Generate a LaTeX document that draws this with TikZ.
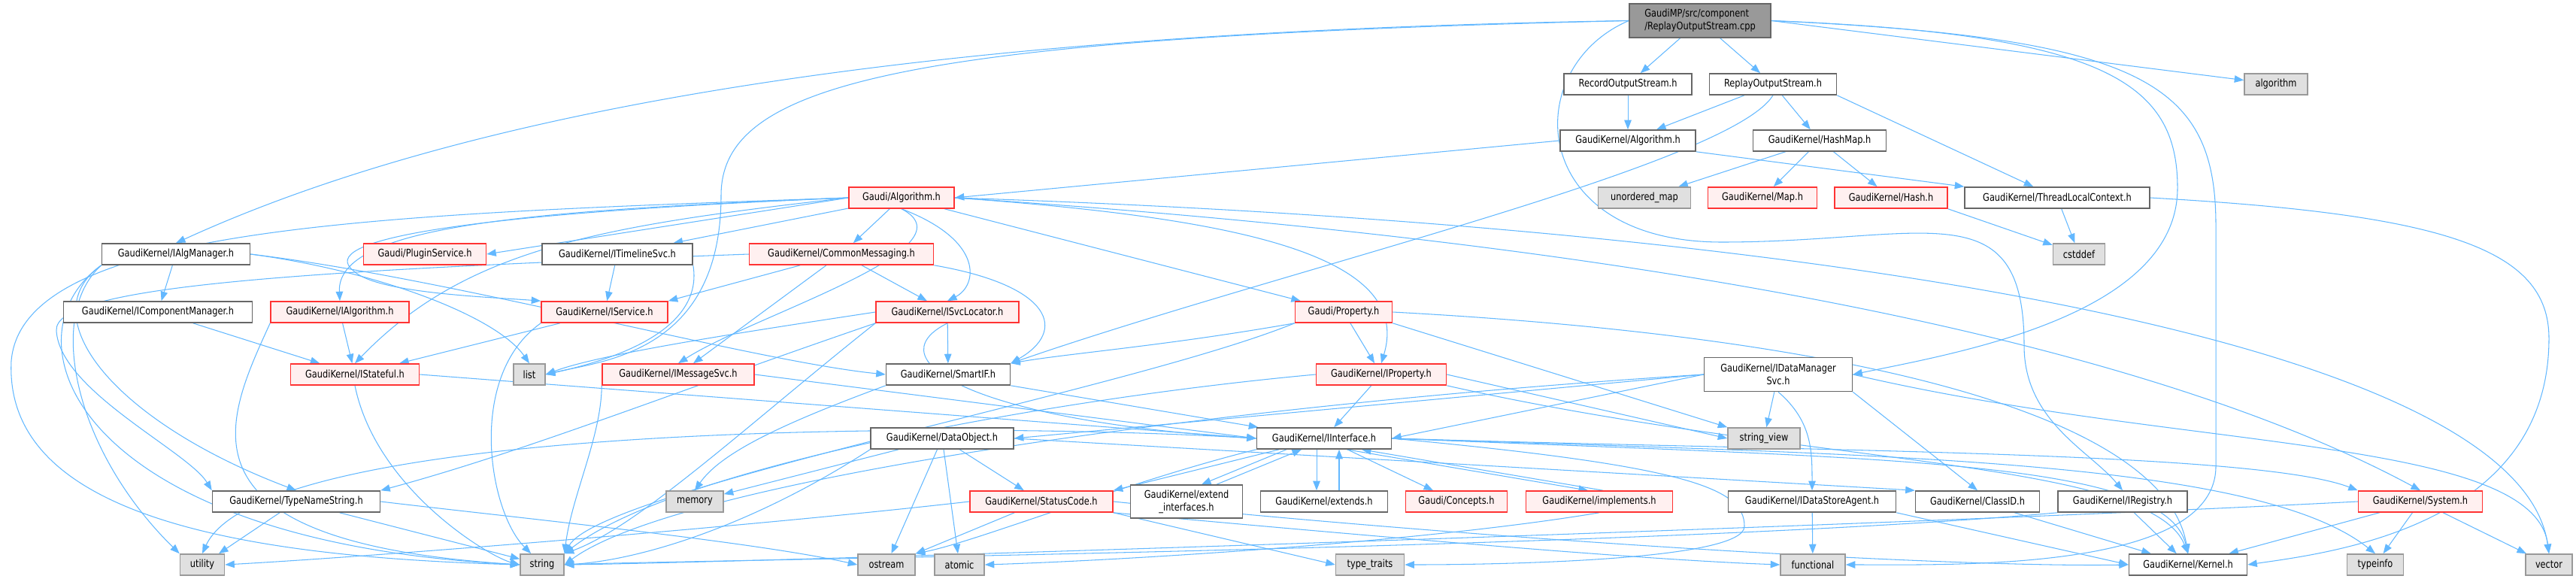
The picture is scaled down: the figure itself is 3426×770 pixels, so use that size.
\documentclass[tikz,border=0pt]{standalone}
\usepackage{fontspec}
\newfontfamily\dvs{DejaVu Sans}[FakeStretch=0.82]
\usetikzlibrary{arrows.meta}
\pgfdeclarelayer{bg}
\pgfsetlayers{bg,main}
\definecolor{edgeblue}{HTML}{63B8FF}
\definecolor{boxgray}{HTML}{666666}
\definecolor{sysgray}{HTML}{999999}
\definecolor{sysfill}{HTML}{E0E0E0}
\definecolor{redfill}{HTML}{FFF0F0}
\definecolor{redline}{HTML}{FF3333}
\definecolor{rootfill}{HTML}{999999}
\tikzset{
  box/.style={draw=boxgray, fill=white, line width=0.9pt, minimum height=0.56cm, inner sep=0pt, font=\dvs\fontsize{7.9}{9.6}\selectfont, text=black},
  redbox/.style={box, draw=redline, fill=redfill},
  sysbox/.style={box, draw=sysgray, fill=sysfill},
  rootbox/.style={box, fill=rootfill, minimum height=0.9cm, align=left},
  edge/.style={draw=edgeblue, line width=0.6pt, -{Triangle[length=0.25cm,width=0.19cm]}}
}
\begin{document}
\begin{tikzpicture}[x=0.02cm,y=-0.02cm]
\useasboundingbox (0,0) rectangle (3426,770);
% nodes
\node[rootbox, minimum width=3.76cm] (root) at (2261,27.5) {GaudiMP/src/component\\/ReplayOutputStream.cpp};
\node[box, minimum width=3.40cm] (rec) at (2165,112) {RecordOutputStream.h};
\node[box, minimum width=3.38cm] (rep) at (2358,112) {ReplayOutputStream.h};
\node[box, minimum width=3.60cm] (gkalg) at (2165,187) {GaudiKernel/Algorithm.h};
\node[box, minimum width=3.54cm] (hashmap) at (2420,187) {GaudiKernel/HashMap.h};
\node[sysbox, minimum width=2.46cm] (umap) at (2187,263) {unordered\_map};
\node[redbox, minimum width=2.90cm] (map) at (2344,263) {GaudiKernel/Map.h};
\node[redbox, minimum width=3.00cm] (hash) at (2515,263) {GaudiKernel/Hash.h};
\node[sysbox, minimum width=1.68cm] (algo) at (3027,112) {algorithm};
\node[box, minimum width=4.92cm] (tlc) at (2736,263) {GaudiKernel/ThreadLocalContext.h};
\node[sysbox, minimum width=1.38cm] (cstddef) at (2765,338) {cstddef};
\node[box, minimum width=3.94cm] (ialgmgr) at (234,338) {GaudiKernel/IAlgManager.h};
\node[redbox, minimum width=3.26cm] (plugin) at (565,338) {Gaudi/PluginService.h};
\node[box, minimum width=4.00cm] (timeline) at (821,338) {GaudiKernel/ITimelineSvc.h};
\node[redbox, minimum width=2.80cm] (galg) at (1199,263) {Gaudi/Algorithm.h};
\node[redbox, minimum width=4.90cm] (cmsg) at (1119,338) {GaudiKernel/CommonMessaging.h};
\node[box, minimum width=5.02cm] (icompmgr) at (210,415) {GaudiKernel/IComponentManager.h};
\node[redbox, minimum width=3.68cm] (ialgo) at (452,415) {GaudiKernel/IAlgorithm.h};
\node[redbox, minimum width=3.36cm] (iservice) at (804,415) {GaudiKernel/IService.h};
\node[redbox, minimum width=3.42cm] (istate) at (472,498) {GaudiKernel/IStateful.h};
\node[sysbox, minimum width=0.84cm] (list) at (704,498) {list};
\node[redbox, minimum width=4.04cm] (imsg) at (902,498) {GaudiKernel/IMessageSvc.h};
\node[box, minimum width=4.46cm] (tns) at (394,667) {GaudiKernel/TypeNameString.h};
\node[sysbox, minimum width=1.18cm] (utility) at (269,751) {utility};
\node[sysbox, minimum width=1.16cm] (string) at (721,751) {string};
\node[redbox, minimum width=3.80cm] (isvcloc) at (1260,415) {GaudiKernel/ISvcLocator.h};
\node[box, minimum width=3.30cm] (smartif) at (1261,498) {GaudiKernel/SmartIF.h};
\node[box, minimum width=3.80cm] (dataobj) at (1253,583) {GaudiKernel/DataObject.h};
\node[sysbox, minimum width=1.52cm] (memory) at (924,667) {memory};
\node[redbox, minimum width=3.80cm] (status) at (1385,667) {GaudiKernel/StatusCode.h};
\node[box, minimum width=2.98cm, minimum height=0.88cm, align=center] (extif) at (1578,667) {GaudiKernel/extend\\\_interfaces.h};
\node[sysbox, minimum width=1.52cm] (ostream) at (1179,751) {ostream};
\node[sysbox, minimum width=1.32cm] (atomic) at (1276,751) {atomic};
\node[redbox, minimum width=2.58cm] (gprop) at (1787,415) {Gaudi/Property.h};
\node[redbox, minimum width=3.46cm] (iprop) at (1837,498) {GaudiKernel/IProperty.h};
\node[box, minimum width=3.58cm] (iiface) at (1761,583) {GaudiKernel/IInterface.h};
\node[box, minimum width=3.94cm, minimum height=0.9cm, align=center] (idms) at (2365,498) {GaudiKernel/IDataManager\\Svc.h};
\node[sysbox, minimum width=1.92cm] (sview) at (2346,583) {string\_view};
\node[box, minimum width=3.38cm] (extends) at (1761,667) {GaudiKernel/extends.h};
\node[redbox, minimum width=2.70cm] (concepts) at (1937,667) {Gaudi/Concepts.h};
\node[redbox, minimum width=3.90cm] (impl) at (2127,667) {GaudiKernel/implements.h};
\node[box, minimum width=4.46cm] (idsa) at (2410,667) {GaudiKernel/IDataStoreAgent.h};
\node[box, minimum width=3.30cm] (classid) at (2630,667) {GaudiKernel/ClassID.h};
\node[sysbox, minimum width=1.82cm] (ttraits) at (1822,751) {type\_traits};
\node[sysbox, minimum width=1.72cm] (functional) at (2411,751) {functional};
\node[box, minimum width=3.44cm] (iregistry) at (2823,667) {GaudiKernel/IRegistry.h};
\node[redbox, minimum width=3.30cm] (system) at (3219,667) {GaudiKernel/System.h};
\node[box, minimum width=3.14cm] (kernel) at (2910,751) {GaudiKernel/Kernel.h};
\node[sysbox, minimum width=1.50cm] (typeinfo) at (3159,751) {typeinfo};
\node[sysbox, minimum width=1.24cm] (vector) at (3390,751) {vector};

\begin{pgfonlayer}{bg}
% root edges
\draw[edge] (root) -- (rec);
\draw[edge] (root) -- (rep);
\draw[edge] (root.east) -- (algo);
\draw[edge] (root.west) .. controls (1400,40) and (700,110) .. (ialgmgr.north);
\draw[edge] (root.west) .. controls (1200,50) and (959,110) .. (959,260) .. controls (959,470) and (800,480) .. (list.east);
\draw[edge] (root.west) .. controls (2020,90) and (2030,322) .. (2290,322) .. controls (2560,322) and (2692,250) .. (2692,460) .. controls (2692,560) and (2780,600) .. (iregistry.north);
\draw[edge] (root.east) .. controls (2800,45) and (2896,110) .. (2896,250) .. controls (2896,420) and (2600,470) .. (idms.east);
\draw[edge] (root.east) .. controls (2850,50) and (2947,110) .. (2947,300) -- (2947,620) .. controls (2947,760) and (2600,751) .. (functional.east);
% second level
\draw[edge] (rec) -- (gkalg);
\draw[edge] (rep) -- (gkalg);
\draw[edge] (rep) -- (hashmap);
\draw[edge] (rep.south east) -- (tlc);
\draw[edge] (rep.south) .. controls (2300,220) and (1700,360) .. (smartif.north east);
\draw[edge] (gkalg.west) -- (galg.east);
\draw[edge] (gkalg.south east) -- (tlc.north west);
\draw[edge] (hashmap) -- (umap);
\draw[edge] (hashmap) -- (map);
\draw[edge] (hashmap) -- (hash);
\draw[edge] (hash.south east) -- (cstddef);
\draw[edge] (tlc) -- (cstddef);
\draw[edge] (tlc.east) .. controls (3250,285) and (3390,330) .. (3390,450) .. controls (3390,700) and (3100,735) .. (kernel.east);
% Gaudi/Algorithm.h
\draw[edge] (galg.west) -- (plugin.east);
\draw[edge] (galg) -- (timeline);
\draw[edge] (galg) -- (cmsg);
\draw[edge] (galg.west) .. controls (700,280) and (447,300) .. (ialgo.north);
\draw[edge] (galg.west) .. controls (600,285) and (420,320) .. (470,360) .. controls (500,390) and (650,395) .. (iservice.north west);
\draw[edge] (galg.west) .. controls (800,300) and (620,330) .. (istate.north);
\draw[edge] (galg.south) .. controls (1300,330) and (1000,420) .. (imsg.north);
\draw[edge] (galg.south) .. controls (1310,320) and (1300,380) .. (isvcloc.north);
\draw[edge] (galg) -- (gprop);
\draw[edge] (galg.east) .. controls (1650,290) and (1880,340) .. (iprop.north);
\draw[edge] (galg.east) .. controls (2300,330) and (2900,480) .. (system.north);
\draw[edge] (galg.east) .. controls (2400,300) and (3350,450) .. (vector.north);
\draw[edge] (galg.west) .. controls (500,285) and (30,300) .. (15,480) .. controls (5,680) and (300,740) .. (string.west);
% IAlgManager
\draw[edge] (ialgmgr) -- (icompmgr);
\draw[edge] (ialgmgr.east) .. controls (500,360) and (660,420) .. (list.north);
\draw[edge] (ialgmgr.east) .. controls (600,370) and (1000,480) .. (smartif.west);
\draw[edge] (ialgmgr.south west) .. controls (60,420) and (100,600) .. (utility.north west);
\draw[edge] (ialgmgr.south west) .. controls (0,450) and (100,720) .. (string.west);
\draw[edge] (ialgmgr.south west) .. controls (40,420) and (150,560) .. (tns.north);
% CommonMessaging / Timeline
\draw[edge] (cmsg) -- (iservice.north east);
\draw[edge] (cmsg) -- (imsg);
\draw[edge] (cmsg) -- (isvcloc);
\draw[edge] (cmsg.south east) .. controls (1400,380) and (1420,440) .. (smartif.north east);
\draw[edge] (cmsg.west) .. controls (400,360) and (70,380) .. (75,440) .. controls (80,520) and (250,600) .. (tns.north west);
\draw[edge] (timeline) -- (iservice);
\draw[edge] (timeline.south east) .. controls (930,400) and (900,460) .. (list.east);
% interfaces
\draw[edge] (icompmgr) -- (istate);
\draw[edge] (ialgo) -- (istate);
\draw[edge] (ialgo.south west) .. controls (300,560) and (220,720) .. (string.west);
\draw[edge] (iservice) -- (istate);
\draw[edge] (iservice.south west) .. controls (620,500) and (650,680) .. (string);
\draw[edge] (istate.south) .. controls (500,650) and (650,740) .. (string.west);
\draw[edge] (istate.east) -- (iiface.west);
\draw[edge] (imsg.east) -- (iiface.west);
\draw[edge] (imsg.south west) .. controls (800,580) and (760,660) .. (string.north east);
\draw[edge] (isvcloc) -- (smartif);
\draw[edge] (isvcloc.west) .. controls (1000,440) and (800,470) .. (list.east);
\draw[edge] (isvcloc.south west) .. controls (900,520) and (700,600) .. (tns.north east);
\draw[edge] (isvcloc.south west) .. controls (1000,560) and (850,700) .. (string.north east);
\draw[edge] (isvcloc.south) .. controls (1160,480) and (1300,560) .. (iiface.west);
\draw[edge] (smartif.south east) -- (iiface);
\draw[edge] (smartif.south west) .. controls (1050,560) and (960,600) .. (memory.north);
\draw[edge] (tns) -- (utility);
\draw[edge] (tns) -- (string);
\draw[edge] (tns.east) .. controls (700,690) and (1000,720) .. (ostream.west);
% DataObject
\draw[edge] (dataobj) -- (memory);
\draw[edge] (dataobj) -- (ostream);
\draw[edge] (dataobj) -- (atomic);
\draw[edge] (dataobj) -- (status);
\draw[edge] (dataobj.east) -- (classid.north west);
\draw[edge] (dataobj.south west) .. controls (1000,700) and (850,745) .. (string.east);
% StatusCode
\draw[edge] (status) -- (ostream.north east);
\draw[edge] (status.west) .. controls (1000,700) and (500,740) .. (utility.east);
\draw[edge] (status.south east) -- (ttraits.west);
\draw[edge] (status.south east) .. controls (1900,720) and (2200,745) .. (functional.west);
\draw[edge] (status.east) .. controls (2000,720) and (2600,755) .. (kernel.west);
% IInterface
\draw[edge] (iiface) -- (status.north east);
\draw[edge] (iiface) -- (concepts);
\draw[edge] ([xshift=-0.2cm]iiface.south) -- ([xshift=-0.2cm]extends.north);
\draw[edge] ([xshift=0.4cm]extends.north) -- ([xshift=0.4cm]iiface.south);
\draw[edge] ([xshift=-1cm]iiface.south) -- ([xshift=0.4cm]extif.north);
\draw[edge] ([xshift=0.8cm]extif.north) -- ([xshift=-0.6cm]iiface.south);
\draw[edge] ([xshift=0.6cm]iiface.south) -- ([xshift=-0.3cm]impl.north);
\draw[edge] ([xshift=0.1cm]impl.north) -- ([xshift=1.0cm]iiface.south);
\draw[edge] (iiface.east) .. controls (2250,620) and (2320,650) .. (2320,700) .. controls (2320,745) and (2000,751) .. (ttraits.east);
\draw[edge] (iiface.south west) .. controls (1500,640) and (1300,720) .. (ostream.north east);
\draw[edge] (iiface.west) .. controls (1300,560) and (350,560) .. (utility.north);
\draw[edge] (iiface.east) .. controls (2400,600) and (3000,600) .. (system.north west);
\draw[edge] (iiface.east) .. controls (2500,610) and (2880,610) .. (kernel.north);
\draw[edge] (iiface.east) .. controls (2500,605) and (3000,610) .. (typeinfo.north);
\draw[edge] (impl.south) .. controls (1900,720) and (1500,745) .. (atomic.east);
% Property
\draw[edge] (gprop) -- (iprop);
\draw[edge] (gprop.south east) -- (sview.north west);
\draw[edge] (gprop.south west) .. controls (1550,460) and (1420,470) .. (smartif.north east);
\draw[edge] (gprop.south west) .. controls (1500,520) and (800,650) .. (string.north east);
\draw[edge] (gprop.east) .. controls (2500,450) and (2880,560) .. (kernel.north);
\draw[edge] (iprop) -- (iiface);
\draw[edge] (iprop.east) -- (sview.west);
\draw[edge] (iprop.south east) .. controls (2400,620) and (2860,610) .. (kernel.north);
\draw[edge] (iprop.west) .. controls (1400,530) and (900,620) .. (string.north east);
% IDataManagerSvc
\draw[edge] (idms.west) -- (dataobj.east);
\draw[edge] (idms.west) -- (iiface.east);
\draw[edge] (idms.west) .. controls (1600,540) and (900,640) .. (string.east);
\draw[edge] (idms) -- (sview);
\draw[edge] (idms.south) .. controls (2410,560) and (2410,600) .. (idsa.north);
\draw[edge] (idms.south east) -- (classid.north);
\draw[edge] (idms.east) .. controls (2900,600) and (3370,580) .. (vector.north);
% bottom layer
\draw[edge] (idsa) -- (functional);
\draw[edge] (idsa.south east) -- (kernel.west);
\draw[edge] (classid) -- (kernel);
\draw[edge] (iregistry) -- (kernel);
\draw[edge] (iregistry.south west) .. controls (2200,730) and (900,745) .. (string.east);
\draw[edge] (system) -- (kernel);
\draw[edge] (system) -- (typeinfo);
\draw[edge] (system) -- (vector);
\draw[edge] (system.west) .. controls (2500,700) and (1000,748) .. (string.east);
\end{pgfonlayer}
\end{tikzpicture}
\end{document}
